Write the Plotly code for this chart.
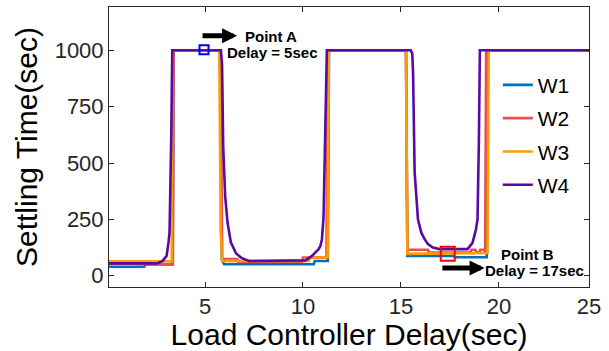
import plotly.graph_objects as go

# ---- data ----
w1_x = [0.1, 1.9, 1.95, 3.35, 3.4, 5.78, 5.86, 5.98, 10.55, 10.6, 11.27, 11.33, 15.26, 15.33, 17.7, 17.75, 19.38, 19.42, 25]
w1_y = [40, 40, 50, 50, 1000, 1000, 70, 51, 51, 65, 65, 1000, 1000, 88, 88, 82, 82, 1000, 1000]

w2_x = [0.1, 3.36, 3.4, 5.78, 5.88, 6.66, 6.7, 9.95, 10.0, 11.2, 11.26, 15.26, 15.33, 16.38, 16.42, 18.55, 18.6, 18.8,
        18.85, 19.0, 19.05, 19.25, 19.3, 19.35, 25]
w2_y = [52, 52, 1000, 1000, 74, 74, 62, 62, 81, 81, 1000, 1000, 115, 115, 103, 103, 115, 115,
        103, 103, 115, 115, 103, 1000, 1000]

w3_x = [0.1, 3.3, 3.33, 5.73, 5.8, 5.88, 10.3, 10.35, 11.26, 11.32, 15.26, 15.33, 19.42, 19.48, 25]
w3_y = [64, 64, 1000, 1000, 200, 66, 66, 81, 81, 1000, 1000, 97, 101, 1000, 1000]

w4_x = [0.1, 2.55, 2.84, 3.04, 3.14, 3.19, 3.28, 3.33, 5.81, 5.87, 5.93, 6.03, 6.15, 6.32, 6.58, 6.83, 6.99, 7.25,
        10.13, 10.46, 10.8, 10.89, 10.97, 11.05, 11.14, 11.19, 11.22, 15.5, 15.58, 15.62, 15.7, 15.87, 16.04,
        16.21, 16.38, 16.63, 16.97, 18.4, 18.66, 18.83, 18.91, 18.98, 19.03, 25]
w4_y = [55, 55, 66, 88, 149, 193, 631, 1000, 1000, 940, 573, 352, 236, 148, 100, 81, 74, 65,
        68, 88, 118, 132, 162, 258, 646, 991, 1000, 1000, 985, 900, 460, 250, 191,
        162, 140, 125, 118, 118, 147, 206, 250, 600, 1000, 1000]

point_a = (4.95, 1002)
point_b = (17.39, 98)

x_ticks = [5, 10, 15, 20, 24.6]
x_ticktext = ["5", "10", "15", "20", "25"]
y_ticks = [0, 250, 500, 750, 1000]

FONT = "Liberation Sans, Arial, Helvetica, sans-serif"
TXT = "#262626"

fig = go.Figure()
series = [
    ("W1", w1_x, w1_y, "#0072BD"),
    ("W2", w2_x, w2_y, "#E8504F"),
    ("W3", w3_x, w3_y, "#FF9A00"),
    ("W4", w4_x, w4_y, "#560BA6"),
]
for name, xs, ys, col in series:
    fig.add_trace(go.Scatter(x=xs, y=ys, mode="lines", name=name, legendgroup=name,
                             line=dict(color=col, width=2.6)))

fig.add_trace(go.Scatter(x=[point_a[0]], y=[point_a[1]], mode="markers", showlegend=False,
                         marker=dict(symbol="square-open", size=9, color="#0000FF", line=dict(width=2, color="#0000FF"))))
fig.add_trace(go.Scatter(x=[point_b[0]], y=[point_b[1]], mode="markers", showlegend=False,
                         marker=dict(symbol="square-open", size=14, color="#FF0000", line=dict(width=2, color="#FF0000"))))

# arrows
fig.add_annotation(x=6.64, y=1065, ax=4.80, ay=1065, xref="x", yref="y", axref="x", ayref="y",
                   text="", showarrow=True, arrowhead=2, arrowwidth=5, arrowsize=0.6, arrowcolor="black")
fig.add_annotation(x=19.27, y=34, ax=17.04, ay=34, xref="x", yref="y", axref="x", ayref="y",
                   text="", showarrow=True, arrowhead=2, arrowwidth=5, arrowsize=0.6, arrowcolor="black")

bold = dict(family=FONT, size=15, color="black")
fig.add_annotation(x=8.35, y=1062, text="<b>Point A</b>", showarrow=False, font=bold)
fig.add_annotation(x=8.47, y=990, text="<b>Delay = 5sec</b>", showarrow=False, font=bold)
fig.add_annotation(x=21.45, y=96, text="<b>Point B</b>", showarrow=False, font=bold)
fig.add_annotation(x=21.80, y=25, text="<b>Delay = 17sec</b>", showarrow=False, font=bold)

axis_common = dict(showline=True, linecolor=TXT, linewidth=1, mirror="ticks", ticks="inside",
                   ticklen=5, tickcolor=TXT, tickwidth=1, showgrid=False, zeroline=False,
                   tickfont=dict(family=FONT, size=22, color=TXT))

fig.update_layout(
    width=609, height=351,
    margin=dict(l=109, r=20, t=6, b=63),
    paper_bgcolor="white", plot_bgcolor="white",
    font=dict(family=FONT, color=TXT),
    xaxis=dict(range=[0.1, 24.6], tickvals=x_ticks, ticktext=x_ticktext,
               title=dict(text="Load Controller Delay(sec)", font=dict(family=FONT, size=30, color="black"), standoff=5),
               **axis_common),
    yaxis=dict(range=[-50, 1192], tickvals=y_ticks,
               title=dict(text="Settling Time(sec)", font=dict(family=FONT, size=30, color="black"), standoff=8),
               **axis_common),
    legend=dict(x=0.81, y=0.794, xanchor="left", yanchor="top", bgcolor="rgba(255,255,255,0)",
                font=dict(family=FONT, size=21, color="black"), tracegroupgap=3, borderwidth=0),
)

fig.write_html("out.html")
